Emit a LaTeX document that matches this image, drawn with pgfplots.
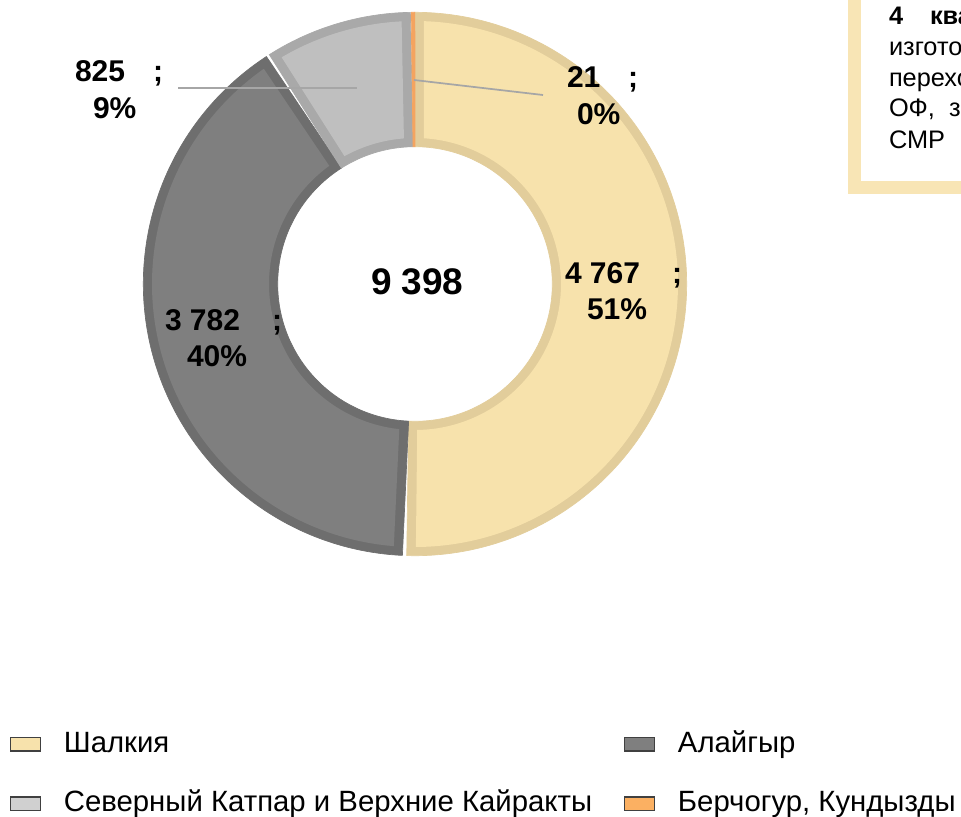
\documentclass[border=0pt]{standalone}
\usepackage{pgfplots}
\pgfplotsset{compat=1.18}
\usepackage{fontspec}
\setmainfont{Liberation Sans}

\definecolor{shF}{HTML}{F7E2AC}
\definecolor{shB}{HTML}{E2CD9B}
\definecolor{alF}{HTML}{7F7F7F}
\definecolor{alB}{HTML}{6E6E6E}
\definecolor{skF}{HTML}{BFBFBF}
\definecolor{skB}{HTML}{A9A9A9}
\definecolor{beF}{HTML}{F4A460}
\definecolor{skL}{HTML}{D0D0D0}
\definecolor{beL}{HTML}{FBB062}
\definecolor{boxB}{HTML}{F8E5B5}
\definecolor{lead}{HTML}{A6A6A6}

% data (thousand units)
\def\vA{4767}% Шалкия
\def\vB{3782}% Алайгыр
\def\vC{825}% Северный Катпар и Верхние Кайракты
\def\vD{21}% Берчогур, Кундызды
\pgfmathsetmacro\tot{\vA+\vB+\vC+\vD}
\pgfmathsetmacro\aA{90}
\pgfmathsetmacro\aB{\aA-360*(\vA/\tot)}
\pgfmathsetmacro\aC{\aB-360*(\vB/\tot)}
\pgfmathsetmacro\aD{\aC-360*(\vC/\tot)}
\pgfmathsetmacro\aE{\aD-360*(\vD/\tot)}
\pgfmathsetmacro\dO{asin(9/263)}
\pgfmathsetmacro\dI{asin(9/146)}

% annular sector: #1 Rout, #2 outer start, #3 outer end, #4 Rin, #5 inner start, #6 inner end, #7 style
\newcommand\ring[7]{%
\addplot[#7, domain=0:2, samples=401, variable=\t, forget plot]
 ({415+((\t<1)?(#1):(#4))*cos((\t<1)?((#2)+((#3)-(#2))*\t):((#5)+((#6)-(#5))*(\t-1)))},
  {284-((\t<1)?(#1):(#4))*sin((\t<1)?((#2)+((#3)-(#2))*\t):((#5)+((#6)-(#5))*(\t-1)))}) -- cycle;}
\newcommand\seg[4]{%
 \ring{271.7}{#1}{#2}{137.3}{#2}{#1}{fill=#3, draw=#3, line width=0.5pt}
 \ring{263}{#1-\dO}{#2+\dO}{146}{#2+\dI}{#1-\dI}{fill=#4, draw=none}}

\newcommand\lab{\fontsize{22.5}{27}\selectfont\bfseries}
\newcommand\boxf{\fontsize{19}{22}\selectfont}
\pgfplotsset{legsq/.style={legend image code/.code={%
  \draw[##1, draw=black!75, line width=0.9pt] (0pt,-5pt) rectangle (22.5pt,5pt);}}}
\tikzset{tx/.style={anchor=base west, inner sep=0pt, outer sep=0pt}}

\begin{document}
\begin{tikzpicture}
\begin{axis}[
  width=720.75pt, height=612.75pt, scale only axis,
  xmin=0, xmax=961, ymin=0, ymax=817, y dir=reverse,
  axis lines=none, clip=false,
  legend columns=2, legend cell align=left,
  legend style={at={(axis cs:10,774)}, anchor=west, draw=none, fill=none,
    inner sep=0pt, outer sep=0pt, row sep=24pt,
    nodes={inner sep=0pt, text height=16pt, text depth=4.5pt,
      font=\fontsize{22}{26}\selectfont},
    /tikz/every odd column/.append style={column sep=17pt},
    /tikz/every even column/.append style={column sep=24pt}},
]
\seg{\aA}{\aB}{shB}{shF}
\seg{\aB}{\aC}{alB}{alF}
\seg{\aC}{\aD}{skB}{skF}
\ring{271.7}{\aD}{\aE}{137.3}{\aE}{\aD}{fill=beF, draw=beF, line width=0.5pt}

\addplot[lead, line width=1.3pt, forget plot] coordinates {(178,88) (357,88)};
\addplot[lead, line width=1.3pt, forget plot] coordinates {(414,80) (543,95)};

\addlegendimage{legsq, fill=shF}\addlegendentry{Шалкия}
\addlegendimage{legsq, fill=alF}\addlegendentry{Алайгыр}
\addlegendimage{legsq, fill=skL}\addlegendentry{Северный Катпар и Верхние Кайракты}
\addlegendimage{legsq, fill=beL}\addlegendentry{Берчогур, Кундызды}

\node[tx, font=\lab] at (axis cs:75,82) {825};
\node[tx, font=\lab] at (axis cs:153,82) {;};
\node[tx, font=\lab] at (axis cs:93,118) {9\%};
\node[tx, font=\lab] at (axis cs:567,88) {21};
\node[tx, font=\lab] at (axis cs:628,88) {;};
\node[tx, font=\lab] at (axis cs:577,125) {0\%};
\node[tx, font=\lab] at (axis cs:565,283) {4 767};
\node[tx, font=\lab] at (axis cs:672,283) {;};
\node[tx, font=\lab] at (axis cs:587,319) {51\%};
\node[tx, font=\lab] at (axis cs:165,330) {3 782};
\node[tx, font=\lab] at (axis cs:272,330) {;};
\node[tx, font=\lab] at (axis cs:187,366) {40\%};
\node[tx, font=\fontsize{27.75}{32}\selectfont\bfseries] at (axis cs:371,294) {9 398};

\draw[boxB, line width=9.75pt] (axis cs:854,-30) rectangle (axis cs:1020,187);
\node[tx, font=\boxf\bfseries] at (axis cs:889,25) {4};
\node[tx, font=\boxf\bfseries] at (axis cs:930,25) {квартал};
\node[tx, font=\boxf] at (axis cs:889,56) {изготовление};
\node[tx, font=\boxf] at (axis cs:889,87) {переходных};
\node[tx, font=\boxf] at (axis cs:889,117) {ОФ,\ \ завершение};
\node[tx, font=\boxf] at (axis cs:889,148) {СМР};
\end{axis}
\pgfresetboundingbox
\path[use as bounding box] (current axis.south west) rectangle (current axis.north east);
\end{tikzpicture}
\end{document}
